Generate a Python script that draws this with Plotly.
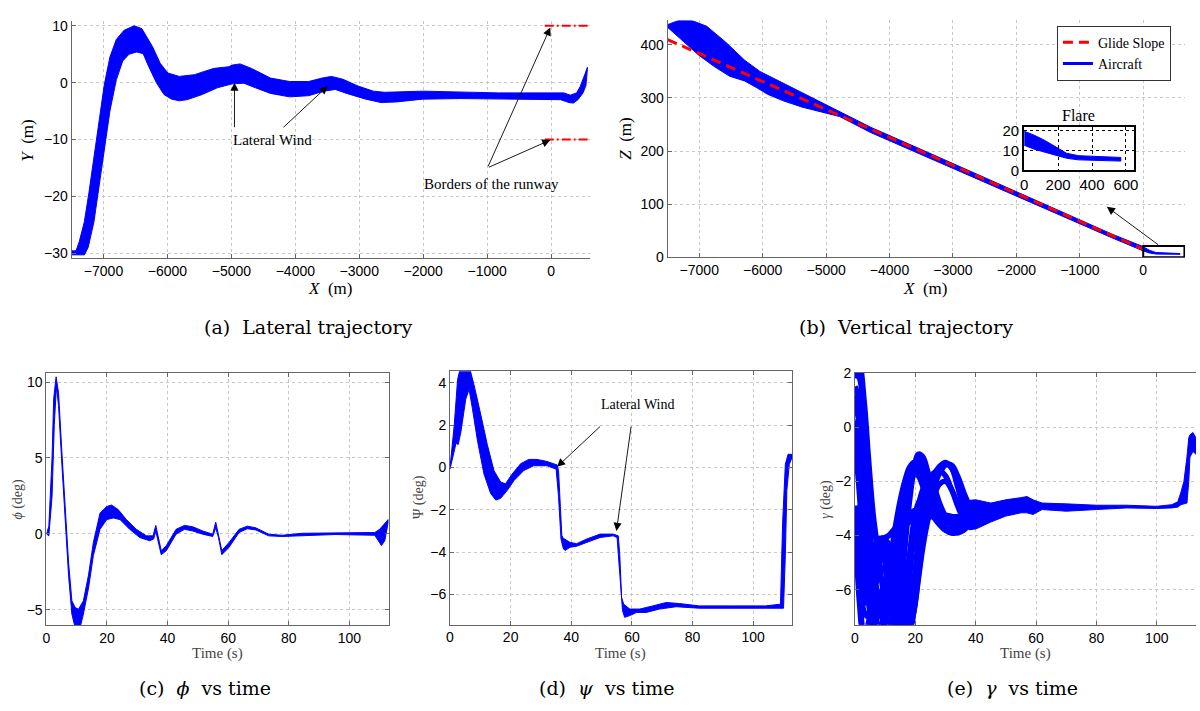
import plotly.graph_objects as go

# ---------------- data ----------------
# (a) Lateral trajectory: envelope of the Monte-Carlo runs
LAT_X_UP = [-7500, -7430, -7380, -7300, -7230, -7150, -7070, -6990, -6900, -6800, -6680, -6520, -6400,
            -6232, -6113, -5994, -5815, -5577, -5280, -5042, -4982, -4863, -4685, -4387, -4089, -3792,
            -3583, -3435, -3256, -3018, -2780, -2601, -2006, -1411, -821, 200, 300, 400, 455, 533, 568]
LAT_Y_UP = [-29.6, -29.6, -28, -24.5, -19.5, -13, -6.5, -0.5, 4.5, 7.6, 9.2, 10, 9.5,
            6.3, 3.4, 1.7, 1.1, 1.4, 2.5, 2.8, 3.1, 3.3, 2.5, 0.8, 0.2, 0.2,
            0.8, 1.1, 0.6, -0.6, -1.5, -1.7, -1.5, -1.7, -1.8, -1.8, -2.2, -1.8, -0.7, 1.6, 2.7]
LAT_X_LO = [-7500, -7300, -7240, -7150, -7060, -6980, -6900, -6800, -6700, -6600, -6480, -6380,
            -6292, -6173, -6054, -5935, -5815, -5696, -5458, -5220, -4982, -4804, -4625, -4387,
            -4089, -3792, -3554, -3375, -3196, -2899, -2661, -2423, -2006, -1411, -821, 150, 280,
            350, 420, 500, 545, 568]
LAT_Y_LO = [-30.3, -30.3, -29, -24.5, -17.5, -11, -5, 0.5, 3.8, 5, 5.4, 5.1,
            2.8, 0, -2.1, -2.9, -3.2, -3, -2.1, -0.9, -0.2, -0.1, -0.9, -1.9,
            -2.5, -2.3, -1.5, -1.2, -1.9, -2.9, -3.5, -3.4, -2.9, -2.8, -2.9, -3.0, -3.5,
            -3.6, -3.0, -1.8, -0.5, 2.3]
RUNWAY_X = [-100, 610]
RUNWAY_HALF_WIDTH = 10

# (b) Vertical trajectory
GS_X = [-7500, 0]
GS_Z = [410, 15]
VT_X_UP = [-7500, -7300, -7121, -6882, -6583, -6284, -6044, -5745, -5446, -5147, -4847, -4608,
           -4300, -3500, -2500, -1500, -500, 0, 100, 200, 400, 580]
VT_Z_UP = [438, 447, 446, 435, 405, 371, 350, 332, 313, 296, 277, 263,
           245, 203, 150, 97, 44, 20, 13, 9, 7.5, 7]
VT_X_LO = [-7500, -7241, -7002, -6762, -6523, -6284, -6104, -5924, -5685, -5386, -5087, -4787,
           -4608, -4300, -3500, -2500, -1500, -500, 0, 100, 200, 400, 580]
VT_Z_LO = [433, 405, 380, 359, 341, 332, 320, 307, 295, 283, 274, 265,
           254, 235, 193, 141, 89, 37, 12, 8, 6, 5.5, 5.5]
FLARE_BOX_X = [0, 650]
FLARE_BOX_Z = [0, 21]
# inset "Flare"
FL_X = [0, 60, 120, 160, 200, 250, 320, 450, 570]
FL_UP = [19.5, 17.5, 15, 13, 10.7, 8.5, 7.3, 6.8, 6.4]
FL_LO = [12.5, 10.5, 9, 8, 7.2, 6, 5.2, 4.8, 4.6]

# (c) phi vs time
PHI_T_UP = [0, 0.8, 1.86, 2.4, 3.2, 4.0, 5.1, 6.2, 7.3, 8.4, 9.5, 10.6, 12.2, 13.9, 15.5, 17.7, 19.9,
            21.5, 23.7, 26.4, 29.7, 33, 35.2, 36.1, 36.8, 37.9, 39.6, 42.8, 45.6, 48.3, 51.6, 54.9,
            55.9, 56.8, 57.9, 60.3, 63.6, 66.3, 69.1, 73.4, 77.8, 84.4, 95.3, 108.4, 110, 111.7, 112.8]
PHI_UP = [0, 0.5, 5, 8.9, 10.34, 9.3, 5.4, 1.6, -1.85, -4.4, -4.85, -4.96, -4.4, -2.7, -0.56, 1.37, 1.8,
          1.9, 1.6, 0.94, 0.3, -0.13, -0.13, 0.56, -0.13, -1.1, -0.77, 0.3, 0.56, 0.47, 0.19, -0.02,
          0.77, -0.02, -1.1, -0.56, 0.3, 0.51, 0.4, -0.02, -0.09, 0.04, 0.06, 0.09, 0.3, 0.73, 0.94]
PHI_T_LO = [0, 0.8, 1.86, 2.6, 3.3, 4.0, 5.1, 6.2, 7.3, 8.4, 9.5, 11.1, 12.2, 13.9, 15.5, 17.7, 19.9,
            22.1, 24.3, 27.5, 30.8, 34.1, 35.4, 36.1, 37.0, 37.9, 39.6, 42.8, 45.6, 48.3, 51.6, 54.9,
            55.9, 56.8, 57.9, 60.3, 63.6, 66.3, 69.1, 73.4, 77.8, 84.4, 95.3, 108.4, 110.6, 111.7, 112.8]
PHI_LO = [0, -0.13, 2.45, 7.2, 9.7, 8.45, 4.6, 0.73, -2.7, -5.28, -6.2, -6.2, -5.28, -3.56, -1.42, 0.3, 0.94,
          1.05, 0.94, 0.3, -0.24, -0.45, -0.34, 0.19, -0.56, -1.37, -1.1, -0.02, 0.3, 0.19, -0.02, -0.17,
          0.4, -0.24, -1.37, -0.88, 0.09, 0.34, 0.26, -0.13, -0.17, -0.09, -0.04, -0.09, -0.77, -0.45, 0.73]

# (d) psi vs time
PSI_T_UP = [0, 1.4, 2.5, 3.6, 6.3, 8.0, 10.2, 12.3, 14.5, 16.7, 18.3, 20.5, 23.3, 26, 28.7, 32, 35.3,
            35.8, 36.4, 36.9, 37.4, 39.6, 41.8, 45.1, 49.5, 53.8, 55.5, 56, 56.6, 57.3, 59.3, 62.6,
            66.9, 71.3, 75.7, 82.2, 93.1, 104, 109, 109.7, 110.6, 111.5, 112.8]
PSI_UP = [0, 2.0, 4.15, 4.8, 4.8, 3.85, 2.46, 1.08, -0.15, -0.69, -0.77, -0.31, 0.18, 0.38, 0.38, 0.28, 0.12,
          -0.15, -1.85, -3.23, -3.35, -3.54, -3.6, -3.38, -3.15, -3.15, -3.23, -4.15, -6.15, -6.46, -6.69, -6.69,
          -6.54, -6.38, -6.43, -6.54, -6.54, -6.54, -6.46, -2.62, 0.15, 0.62, 0.62]
PSI_T_LO = [0, 2.0, 2.7, 3.6, 5.2, 6.3, 7.4, 9.1, 11.2, 13.4, 15.1, 16.7, 18.9, 21.1, 24.3, 27.6, 32, 35,
            35.8, 36.6, 37.4, 38, 39.6, 41.8, 45.1, 49.5, 53.8, 55.1, 56, 56.9, 57.6, 59.3, 61.5, 64.7,
            69.1, 74.6, 82.2, 93.1, 104, 110, 110.6, 111.1, 111.9, 112.8]
PSI_LO = [-0.08, 1.15, 1.08, 1.69, 3.23, 3.69, 2.77, 1.23, -0.31, -1.23, -1.54, -1.46, -1.08, -0.62, -0.15, 0.08,
          0.08, -0.08, -1.38, -3.38, -3.85, -3.92, -3.77, -3.72, -3.54, -3.31, -3.23, -3.31, -5.08, -6.77, -7.08,
          -7.0, -6.85, -6.85, -6.69, -6.58, -6.65, -6.65, -6.65, -6.65, -4.15, -1.08, 0.15, 0.46]

# (e) gamma vs time: individual runs over the first 42 s
GAM_T = [0, 1.5, 3, 4.5, 6, 7.5, 9, 10.5, 12, 13.5, 15, 16.5, 18, 19.5, 21, 22.5, 24, 26, 28, 30,
         32, 34, 36, 38, 40, 42]
GAM_RUNS = [
    [1.8, 2.3, 1.0, -1.2, -3.2, -4.5, -5.8, -7.0, -7.8, -7.8, -6.5, -4.5, -2.8, -1.6, -1.0, -1.1,
     -1.6, -2.4, -3.0, -3.3, -3.4, -3.4, -3.35, -3.3, -3.2, -3.1],
    [0.2, 0.1, -1.8, -4.5, -6.3, -7.3, -7.8, -7.8, -7.2, -6.0, -4.6, -3.2, -2.2, -1.6, -1.35, -1.5,
     -2.0, -2.8, -3.3, -3.5, -3.5, -3.4, -3.3, -3.2, -3.1, -3.0],
    [-3.0, -6.0, -7.6, -7.2, -5.8, -4.6, -4.1, -4.3, -5.0, -6.4, -7.5, -7.2, -5.6, -4.0, -2.9, -2.3,
     -2.0, -2.2, -2.8, -3.3, -3.6, -3.7, -3.6, -3.4, -3.2, -3.0],
    [-3.0, -4.5, -6.0, -6.3, -5.6, -4.6, -4.2, -4.5, -5.8, -7.0, -7.6, -7.6, -7.0, -5.8, -4.5, -3.4,
     -2.5, -1.8, -1.45, -1.3, -1.5, -2.0, -2.6, -3.0, -3.2, -3.2],
    [-3.0, -3.0, -3.5, -4.2, -4.4, -4.3, -4.15, -4.05, -3.95, -3.85, -3.7, -3.6, -3.5, -3.4, -3.3,
     -3.25, -3.3, -3.3, -3.25, -3.25, -3.3, -3.4, -3.45, -3.4, -3.3, -3.2],
    [0.0, -1.0, -4.0, -6.0, -6.8, -6.6, -6.0, -5.8, -6.3, -7.2, -7.6, -6.6, -5.0, -3.8, -3.0, -2.5,
     -2.4, -2.7, -3.3, -3.7, -3.9, -3.9, -3.8, -3.6, -3.4, -3.2],
    [1.5, 1.0, -2.0, -5.0, -7.0, -7.6, -7.4, -6.6, -5.6, -4.6, -3.6, -2.6, -1.9, -1.6, -1.6, -1.9,
     -2.5, -3.1, -3.5, -3.8, -3.9, -3.85, -3.7, -3.5, -3.3, -3.2],
    [-3.0, -5.5, -6.5, -6.0, -5.0, -4.3, -4.5, -5.5, -6.8, -7.6, -7.4, -6.2, -4.8, -3.5, -2.8, -2.6,
     -2.7, -3.0, -3.2, -3.3, -3.3, -3.3, -3.25, -3.2, -3.1, -3.0],
    [-3.0, -4.0, -5.2, -5.8, -5.9, -5.6, -5.2, -5.4, -6.2, -7.0, -7.6, -7.6, -7.2, -6.2, -5.0, -3.9,
     -3.0, -2.2, -1.6, -1.35, -1.5, -2.2, -2.9, -3.2, -3.3, -3.2],
    [0.2, -0.5, -2.2, -3.5, -4.0, -4.1, -4.1, -4.05, -3.9, -3.7, -3.5, -3.35, -3.2, -3.1, -3.0,
     -3.05, -3.1, -3.2, -3.25, -3.3, -3.35, -3.4, -3.4, -3.35, -3.25, -3.15],
    [2.0, 1.8, -0.5, -3.0, -5.0, -6.2, -7.0, -7.6, -7.8, -7.0, -5.5, -3.8, -2.4, -1.5, -1.2, -1.3,
     -1.8, -2.6, -3.1, -3.4, -3.5, -3.45, -3.35, -3.3, -3.2, -3.1],
    [1.2, 0.5, -2.5, -5.5, -7.2, -7.8, -7.6, -6.8, -5.6, -4.4, -3.3, -2.4, -1.8, -1.7, -1.8, -2.2,
     -2.8, -3.3, -3.6, -3.8, -3.85, -3.8, -3.6, -3.4, -3.2, -3.1],
    [-3.0, -6.5, -7.8, -7.5, -6.2, -5.0, -4.3, -4.2, -4.6, -5.6, -6.8, -7.6, -7.2, -5.8, -4.2, -3.0,
     -2.2, -1.7, -1.6, -1.8, -2.3, -2.8, -3.2, -3.4, -3.4, -3.3],
    [-3.0, -5.0, -6.8, -7.0, -6.3, -5.3, -4.6, -4.5, -5.2, -6.5, -7.4, -7.8, -7.6, -6.8, -5.5, -4.2,
     -3.2, -2.3, -1.7, -1.4, -1.4, -1.8, -2.4, -2.9, -3.2, -3.3],
    [-0.5, -2.5, -5.0, -6.5, -7.2, -7.0, -6.3, -5.6, -5.0, -4.5, -4.0, -3.6, -3.3, -3.1, -3.0, -3.0,
     -3.1, -3.3, -3.45, -3.5, -3.5, -3.45, -3.4, -3.3, -3.2, -3.1],
    [-3.0, -3.6, -4.6, -5.2, -5.3, -5.0, -4.6, -4.4, -4.6, -5.4, -6.4, -7.2, -7.4, -6.8, -5.6, -4.4,
     -3.5, -2.6, -2.1, -2.0, -2.3, -2.9, -3.4, -3.7, -3.6, -3.4],
    [1.0, 0.0, -3.0, -5.8, -7.4, -7.8, -7.2, -6.0, -4.7, -3.6, -2.7, -2.0, -1.5, -1.3, -1.4, -1.8,
     -2.4, -3.1, -3.5, -3.7, -3.7, -3.6, -3.5, -3.35, -3.2, -3.1],
    [-3.0, -3.2, -3.8, -4.6, -5.0, -5.0, -4.8, -4.7, -4.9, -5.4, -5.8, -5.6, -4.9, -4.2, -3.6, -3.3,
     -3.2, -3.3, -3.4, -3.45, -3.45, -3.4, -3.35, -3.3, -3.2, -3.1],
]
# (e) envelope after the runs converge
GAM_T_TAIL = [38, 40, 45, 50, 55, 57, 59, 62, 70, 80, 90, 100, 105, 107, 108, 109, 110, 110.6, 111, 112, 113]
GAM_TAIL_UP = [-2.7, -2.68, -2.8, -2.68, -2.6, -2.56, -2.68, -2.8, -2.83, -2.88, -2.88, -2.92, -2.86, -2.75,
               -2.4, -2.0, -1.1, -0.4, -0.28, -0.2, -0.4]
GAM_TAIL_LO = [-3.76, -3.76, -3.5, -3.28, -3.16, -3.16, -3.22, -3.04, -3.1, -3.04, -2.98, -3.0, -2.98, -2.95,
               -2.86, -2.83, -2.8, -2.0, -1.1, -0.9, -1.0]

# ---------------- styling ----------------
BLUE = "rgb(0,0,255)"
RED = "rgb(255,0,0)"
SERIF = "Liberation Serif, Times New Roman, serif"
CAPSERIF = "DejaVu Serif, serif"
SANS = "Liberation Sans, Arial, sans-serif"
W, H = 1200, 711


def px_x(p):
    return p / W


def px_y(p):
    return 1 - p / H


def band(xu, yu, xl, yl):
    return list(xu) + list(xl)[::-1], list(yu) + list(yl)[::-1]


fig = go.Figure()


def add_band(xu, yu, xl, yl, xa, ya):
    bx, by = band(xu, yu, xl, yl)
    fig.add_trace(go.Scatter(x=bx, y=by, fill="toself", fillcolor=BLUE, mode="lines",
                             line=dict(color=BLUE, width=1), xaxis=xa, yaxis=ya,
                             showlegend=False, hoverinfo="skip"))


# (a)
add_band(LAT_X_UP, LAT_Y_UP, LAT_X_LO, LAT_Y_LO, "x", "y")
for s in (1, -1):
    fig.add_trace(go.Scatter(x=RUNWAY_X, y=[s * RUNWAY_HALF_WIDTH] * 2, mode="lines",
                             line=dict(color=RED, width=2, dash="9px,3px,2px,3px"),
                             xaxis="x", yaxis="y", showlegend=False))
# (b)
add_band(VT_X_UP, VT_Z_UP, VT_X_LO, VT_Z_LO, "x2", "y2")
fig.add_trace(go.Scatter(x=GS_X, y=GS_Z, mode="lines", line=dict(color=RED, width=3, dash="10px,6px"),
                         xaxis="x2", yaxis="y2", name="Glide Slope"))
fig.add_trace(go.Scatter(x=[None], y=[None], mode="lines", line=dict(color=BLUE, width=3),
                         xaxis="x2", yaxis="y2", name="Aircraft"))
# inset
add_band(FL_X, FL_UP, FL_X, FL_LO, "x7", "y7")
# (c)
add_band(PHI_T_UP, PHI_UP, PHI_T_LO, PHI_LO, "x3", "y3")
# (d)
add_band(PSI_T_UP, PSI_UP, PSI_T_LO, PSI_LO, "x4", "y4")
# (e)
for run in GAM_RUNS:
    fig.add_trace(go.Scatter(x=GAM_T, y=run, mode="lines", line=dict(color=BLUE, width=5.5, shape="spline"),
                             xaxis="x5", yaxis="y5", showlegend=False, hoverinfo="skip"))
add_band(GAM_T_TAIL, GAM_TAIL_UP, GAM_T_TAIL, GAM_TAIL_LO, "x5", "y5")


def axis(domain, rng, tickvals, anchor, mirror=False):
    return dict(domain=domain, range=rng, tickvals=tickvals, anchor=anchor, showline=True,
                linecolor="#666", linewidth=1, mirror=("ticks" if mirror else False),
                ticks="inside", ticklen=4, tickcolor="#666", showgrid=True, gridcolor="#c8c8c8",
                griddash="dot", gridwidth=1, zeroline=False,
                tickfont=dict(family=SANS, size=14, color="black"))


layout = dict(
    width=W, height=H, margin=dict(l=0, r=0, t=0, b=0),
    paper_bgcolor="white", plot_bgcolor="white",
    xaxis=axis([px_x(68), px_x(590)], [-7500, 610], list(range(-7000, 1, 1000)), "y"),
    yaxis=axis([px_y(256), px_y(13)], [-30.9, 10.9], [-30, -20, -10, 0, 10], "x"),
    xaxis2=axis([px_x(668), px_x(1189)], [-7500, 660], list(range(-7000, 1, 1000)), "y2"),
    yaxis2=axis([px_y(255), px_y(12.7)], [0, 446], [0, 100, 200, 300, 400], "x2"),
    xaxis3=axis([px_x(42.7), px_x(387.3)], [0, 113], list(range(0, 101, 20)), "y3", True),
    yaxis3=axis([px_y(631.7), px_y(373.3)], [-6.03, 10.6], [-5, 0, 5, 10], "x3", True),
    xaxis4=axis([px_x(449), px_x(793.3)], [0, 112.8], list(range(0, 101, 20)), "y4", True),
    yaxis4=axis([px_y(630.7), px_y(371.7)], [-7.42, 4.54], [-6, -4, -2, 0, 2, 4], "x4", True),
    xaxis5=axis([px_x(856.7), 1.0], [0, 113], list(range(0, 101, 20)), "y5", True),
    yaxis5=axis([px_y(631), px_y(373.3)], [-7.29, 2], [-6, -4, -2, 0, 2], "x5", False),
    legend=dict(x=px_x(1060), y=px_y(18), xanchor="left", yanchor="top", bgcolor="white",
                bordercolor="#333", borderwidth=1, font=dict(family=SERIF, size=14, color="black"),
                tracegroupgap=0, itemwidth=30),
)
inset_x = axis([px_x(1027), px_x(1138)], [0, 650], [0, 200, 400, 600], "y7")
inset_y = axis([px_y(166), px_y(122)], [0, 21.5], [0, 10, 20], "x7")
for ax in (inset_x, inset_y):
    ax.update(linecolor="black", linewidth=2, mirror=True, ticks="", gridcolor="black",
              tickfont=dict(family=SANS, size=15, color="black"))
layout["xaxis7"] = inset_x
layout["yaxis7"] = inset_y
fig.update_layout(**layout)

# shapes
fig.add_shape(type="rect", xref="x7 domain", yref="y7 domain", x0=0, x1=1, y0=0, y1=1,
              fillcolor="#eef9ee", line=dict(width=0), layer="below")
fig.add_shape(type="rect", xref="x2", yref="y2", x0=FLARE_BOX_X[0], x1=FLARE_BOX_X[1],
              y0=FLARE_BOX_Z[0], y1=FLARE_BOX_Z[1], line=dict(color="black", width=2))

# annotations: arrows
ARW = dict(showarrow=True, arrowhead=2, arrowsize=1.8, arrowwidth=0.9, arrowcolor="black", text="")
arrows = [
    ("x", "y", -4952, 0, -4952, -8.1),
    ("x", "y", -3494, -0.6, -4208, -8.1),
    ("x", "y", -12, 9.7, -995, -15),
    ("x", "y", -12, -10.1, -995, -15),
    ("x2", "y2", -573, 95, 260, 21.5),
    ("x4", "y4", 35.3, 0.03, 50, 2.0),
    ("x4", "y4", 54.9, -3.0, 59.8, 2.0),
]
for xr, yr, x, y, axv, ayv in arrows:
    fig.add_annotation(xref=xr, yref=yr, axref=xr, ayref=yr, x=x, y=y, ax=axv, ay=ayv, **ARW)


def txt(text, x, y, size, xref="paper", yref="paper", color="black", angle=0, family=SERIF):
    fig.add_annotation(text=text, x=x, y=y, xref=xref, yref=yref, showarrow=False,
                       font=dict(family=family, size=size, color=color), textangle=angle,
                       xanchor="center", yanchor="middle")


txt("Lateral Wind", -4357, -10.1, 15, "x", "y")
txt("Borders of the runway", -935, -17.9, 15, "x", "y")
txt("Lateral Wind", 61.7, 2.97, 14, "x4", "y4")
txt("Flare", px_x(1082), px_y(110), 16)

# axis titles
txt("<i>X</i>  (m)", px_x(328), px_y(287), 17)
txt("<i>Y</i>  (m)", px_x(24), px_y(135), 17, angle=-90)
txt("<i>X</i>  (m)", px_x(927), px_y(287), 17)
txt("<i>Z</i>  (m)", px_x(625), px_y(133), 17, angle=-90)
txt("Time (s)", px_x(215), px_y(660), 15, color="#444")
txt("<i>ϕ</i> (deg)", px_x(14), px_y(502), 14, color="#444", angle=-90)
txt("Time (s)", px_x(621), px_y(660), 15, color="#444")
txt("Ψ (deg)", px_x(418), px_y(500), 14, color="#444", angle=-90)
txt("Time (s)", px_x(1028), px_y(660), 15, color="#444")
txt("<i>γ</i> (deg)", px_x(826.7), px_y(503), 14, color="#444", angle=-90)

# captions
txt("(a)  Lateral trajectory", px_x(307), px_y(326), 19, family=CAPSERIF)
txt("(b)  Vertical trajectory", px_x(908), px_y(326), 19, family=CAPSERIF)
txt("(c)  <i>ϕ</i>  vs time", px_x(202), px_y(696), 19, family=CAPSERIF)
txt("(d)  <i>ψ</i>  vs time", px_x(607), px_y(696), 19, family=CAPSERIF)
txt("(e)  <i>γ</i>  vs time", px_x(1015), px_y(696), 19, family=CAPSERIF)

fig.write_html("out.html")
